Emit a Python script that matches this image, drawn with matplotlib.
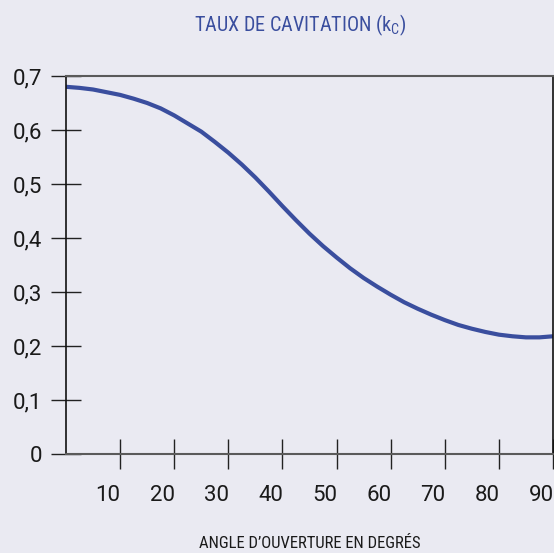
import matplotlib
matplotlib.use("Agg")
import matplotlib.pyplot as plt
from matplotlib import font_manager
from matplotlib.font_manager import FontProperties
from matplotlib.transforms import ScaledTranslation

# ---- data ----
angles = [0, 2.5, 5, 7.5, 10, 12.5, 15, 17.5, 20, 22.5, 25, 27.5, 30, 32.5, 35, 37.5,
          40, 42.5, 45, 47.5, 50, 52.5, 55, 57.5, 60, 62.5, 65, 67.5, 70, 72.5, 75,
          77.5, 80, 82.5, 85, 87.5, 90]
kc = [0.680, 0.678, 0.675, 0.670, 0.665, 0.658, 0.650, 0.640, 0.627, 0.612, 0.597,
      0.578, 0.558, 0.536, 0.512, 0.486, 0.459, 0.433, 0.408, 0.385, 0.364, 0.344,
      0.326, 0.310, 0.295, 0.281, 0.269, 0.258, 0.248, 0.239, 0.232, 0.226, 0.221,
      0.218, 0.216, 0.216, 0.218]
xticks = [10, 20, 30, 40, 50, 60, 70, 80, 90]
yticks = [0, 0.1, 0.2, 0.3, 0.4, 0.5, 0.6, 0.7]
ytick_labels = ["0", "0,1", "0,2", "0,3", "0,4", "0,5", "0,6", "0,7"]
title = "TAUX DE CAVITATION (k$_\\mathregular{C}$)"
xlabel = "ANGLE D\u2019OUVERTURE EN DEGRÉS"

# find a condensed / narrow font if one is installed
narrow_fp = None
for pref in ["Roboto Condensed", "Liberation Sans Narrow", "Open Sans Condensed"]:
    for f in font_manager.fontManager.ttflist:
        if f.name == pref and f.style == "normal":
            narrow_fp = FontProperties(fname=f.fname)
            break
    if narrow_fp is not None:
        break
if narrow_fp is None:
    for f in font_manager.fontManager.ttflist:
        fn = f.fname.lower()
        if ("condensed" in fn or "narrow" in fn) and "bold" not in fn and "oblique" not in fn \
                and "italic" not in fn and "light" not in fn:
            narrow_fp = FontProperties(fname=f.fname)
            break
if narrow_fp is None:
    narrow_fp = FontProperties(family="DejaVu Sans", stretch="condensed")

names = {f.name for f in font_manager.fontManager.ttflist}
tickfont = "Roboto" if "Roboto" in names else "DejaVu Sans"

BG = "#EAEAF2"
BLUE = "#3A4E9E"
DARK = "#1a1a1a"

fig = plt.figure(figsize=(5.54, 5.53), dpi=100, facecolor=BG)
ax = fig.add_axes([66 / 554, 99 / 553, 487 / 554, 378 / 553])
ax.set_facecolor(BG)

ax.plot(angles, kc, color=BLUE, lw=3.0, solid_capstyle="butt", solid_joinstyle="round")

ax.set_xlim(0, 90)
ax.set_ylim(0, 0.7)

ax.set_xticks(xticks)
ax.set_xticklabels([str(v) for v in xticks], fontfamily=tickfont, fontsize=16, color=DARK)
ax.set_yticks(yticks)
ax.set_yticklabels(ytick_labels, fontfamily=tickfont, fontsize=16, color=DARK)

ax.tick_params(axis="y", direction="inout", length=22, width=1.0, color="#222222", pad=6)
ax.tick_params(axis="x", direction="inout", length=22, width=1.0, color="#222222", pad=11)

offset = ScaledTranslation(-12 / 100, 0, fig.dpi_scale_trans)
for lbl in ax.get_xticklabels():
    lbl.set_transform(lbl.get_transform() + offset)

for side in ["left", "right"]:
    ax.spines[side].set_color("#111111")
    ax.spines[side].set_linewidth(1.2)
for side in ["top", "bottom"]:
    ax.spines[side].set_color("#5a5a5a")
    ax.spines[side].set_linewidth(1.5)

tp = narrow_fp.copy()
tp.set_size(14.5)
fig.text(300 / 554, 1 - 25 / 553, title, ha="center", va="center",
         fontproperties=tp, color=BLUE)
xp = narrow_fp.copy()
xp.set_size(12)
fig.text(310 / 554, 1 - 543 / 553, xlabel, ha="center", va="center",
         fontproperties=xp, color=DARK)

fig.savefig("out.png", dpi=100, facecolor=BG)
